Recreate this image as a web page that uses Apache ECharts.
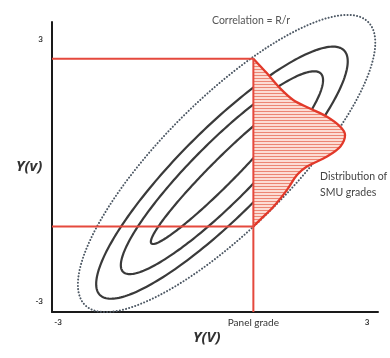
<!DOCTYPE html>
<html><head><meta charset="utf-8">
<script src="https://cdn.jsdelivr.net/npm/echarts@6/dist/echarts.min.js"></script>
<style>html,body{margin:0;padding:0;background:#fff}#c{width:390px;height:358px}</style>
</head><body><div id="c"></div>
<script>
// ---- data ----
const xTickValues = [-3, 0.79, 3];
const xTickLabels = ['-3', 'Panel grade', '3'];
const yTickValues = [-3, 3];
const yTickLabels = ['-3', '3'];

const panelGrade = 0.79;
const upperGrade = 2.55;
const lowerGrade = -1.29;

// contour ellipses: centre, end of major semi-axis, end of minor semi-axis (data units)
const dottedCenterX = [0.27];
const dottedCenterY = [0.15];
const dottedMajorX = [3.02];
const dottedMajorY = [3.39];
const dottedMinorX = [1.15];
const dottedMinorY = [-0.89];

const contourCenterX = [0.18, 0.18, 0.18];
const contourCenterY = [-0.06, -0.06, -0.06];
const contourMajorX = [2.55, 2.10, 1.55];
const contourMajorY = [2.74, 2.21, 1.56];
const contourMinorX = [0.77, 0.59, 0.35];
const contourMinorY = [-0.76, -0.55, -0.27];

// distribution of SMU grades (outline)
const distX = [0.79, 1.05, 1.31, 1.57, 1.89, 2.22, 2.48, 2.57, 2.48, 2.22, 1.83, 1.64, 1.44, 1.18, 0.92, 0.79];
const distY = [2.55, 2.22, 1.87, 1.60, 1.41, 1.22, 0.99, 0.80, 0.54, 0.31, 0.08, -0.11, -0.46, -0.84, -1.14, -1.29];

// ---- chart ----
const X_MIN = -3.12, X_MAX = 3.21, Y_MIN = -3.25, Y_MAX = 3.39;

const pc = document.createElement('canvas');
pc.width = 4; pc.height = 3;
const g = pc.getContext('2d');
g.fillStyle = '#fcdcd4'; g.fillRect(0, 0, 4, 3);
g.fillStyle = '#ec8573'; g.fillRect(0, 0, 4, 1);

function ellipseItem(api, style) {
  const c = api.coord([api.value(0), api.value(1)]);
  const m = api.coord([api.value(2), api.value(3)]);
  const n = api.coord([api.value(4), api.value(5)]);
  const mx = m[0] - c[0], my = m[1] - c[1], nx = n[0] - c[0], ny = n[1] - c[1];
  const pts = [];
  const N = 240;
  for (let i = 0; i < N; i++) {
    const t = i / N * Math.PI * 2;
    pts.push([c[0] + Math.cos(t) * mx + Math.sin(t) * nx, c[1] + Math.cos(t) * my + Math.sin(t) * ny]);
  }
  return { type: 'polygon', shape: { points: pts }, style: style };
}

function findLabel(values, labels, v) {
  for (let i = 0; i < values.length; i++) if (Math.abs(values[i] - v) < 1e-6) return labels[i];
  return '';
}

const chart = echarts.init(document.getElementById('c'), null, { renderer: 'canvas' });

chart.setOption({
  animation: false,
  backgroundColor: '#fff',
  grid: { left: 52, top: 22, width: 326, height: 290, containLabel: false, outerBoundsMode: 'none' },
  xAxis: {
    type: 'value', min: X_MIN, max: X_MAX,
    axisLine: { show: true, onZero: false, lineStyle: { color: '#1a1a1a', width: 2 } },
    axisTick: { show: false },
    splitLine: { show: false },
    axisLabel: {
      customValues: xTickValues, margin: 6, showMinLabel: true, showMaxLabel: true,
      formatter: v => {
        const s = findLabel(xTickValues, xTickLabels, v);
        return s.length > 2 ? '{big|' + s + '}' : s;
      },
      rich: { big: { fontFamily: 'Lato', fontSize: 10, fontWeight: 'normal', color: '#333' } },
      fontFamily: 'Lato', fontSize: 8, fontWeight: 'bold', color: '#333'
    }
  },
  yAxis: {
    type: 'value', min: Y_MIN, max: Y_MAX,
    axisLine: { show: true, onZero: false, lineStyle: { color: '#1a1a1a', width: 2 } },
    axisTick: { show: false },
    splitLine: { show: false },
    axisLabel: {
      customValues: yTickValues, margin: 9, showMinLabel: true, showMaxLabel: true,
      formatter: v => findLabel(yTickValues, yTickLabels, v),
      fontFamily: 'Lato', fontSize: 8, fontWeight: 'bold', color: '#333'
    }
  },
  series: [
    {
      type: 'custom', z: 2, clip: false,
      data: dottedCenterX.map((x, i) => [x, dottedCenterY[i], dottedMajorX[i], dottedMajorY[i], dottedMinorX[i], dottedMinorY[i]]),
      renderItem: (params, api) => ellipseItem(api, { fill: 'none', stroke: '#4d5864', lineWidth: 2, lineDash: [0.1, 3.1], lineCap: 'round' })
    },
    {
      type: 'custom', z: 2, clip: false,
      data: contourCenterX.map((x, i) => [x, contourCenterY[i], contourMajorX[i], contourMajorY[i], contourMinorX[i], contourMinorY[i]]),
      renderItem: (params, api) => ellipseItem(api, { fill: 'none', stroke: '#3a3a3a', lineWidth: 2.2 })
    },
    {
      type: 'custom', z: 3, clip: false,
      data: distX.map((x, i) => [x, distY[i]]),
      renderItem: (params, api) => {
        if (params.dataIndex !== 0) return null;
        const pts = distX.map((x, i) => api.coord([x, distY[i]]));
        return {
          type: 'group', children: [
            { type: 'polyline', shape: { points: pts, smooth: 0.35 }, style: { fill: { image: pc, repeat: 'repeat' }, stroke: 'none' } },
            { type: 'polyline', shape: { points: pts, smooth: 0.35 }, style: { fill: 'none', stroke: '#e2392a', lineWidth: 2.3 } }
          ]
        };
      }
    },
    {
      type: 'line', z: 4, symbol: 'none', silent: true,
      lineStyle: { color: '#e5493d', width: 2 },
      data: [[X_MIN, upperGrade], [panelGrade, upperGrade], [panelGrade, Y_MIN]]
    },
    {
      type: 'line', z: 4, symbol: 'none', silent: true,
      lineStyle: { color: '#e5493d', width: 2 },
      data: [[X_MIN, lowerGrade], [panelGrade, lowerGrade]]
    }
  ],
  graphic: [
    { type: 'text', left: 212, top: 15, style: { text: 'Correlation = R/r', font: '10.5px Lato', fill: '#555' } },
    { type: 'text', left: 320, top: 169, style: { text: 'Distribution of\nSMU grades', font: '10.5px Lato', fill: '#444', lineHeight: 16 } },
    { type: 'text', left: 16, top: 159, style: { text: 'Y(v)', font: 'italic bold 15px "Open Sans"', fill: '#333' } },
    { type: 'text', left: 193, top: 330, style: { text: 'Y(V)', font: 'italic bold 15px "Open Sans"', fill: '#333' } }
  ]
});
</script></body></html>
